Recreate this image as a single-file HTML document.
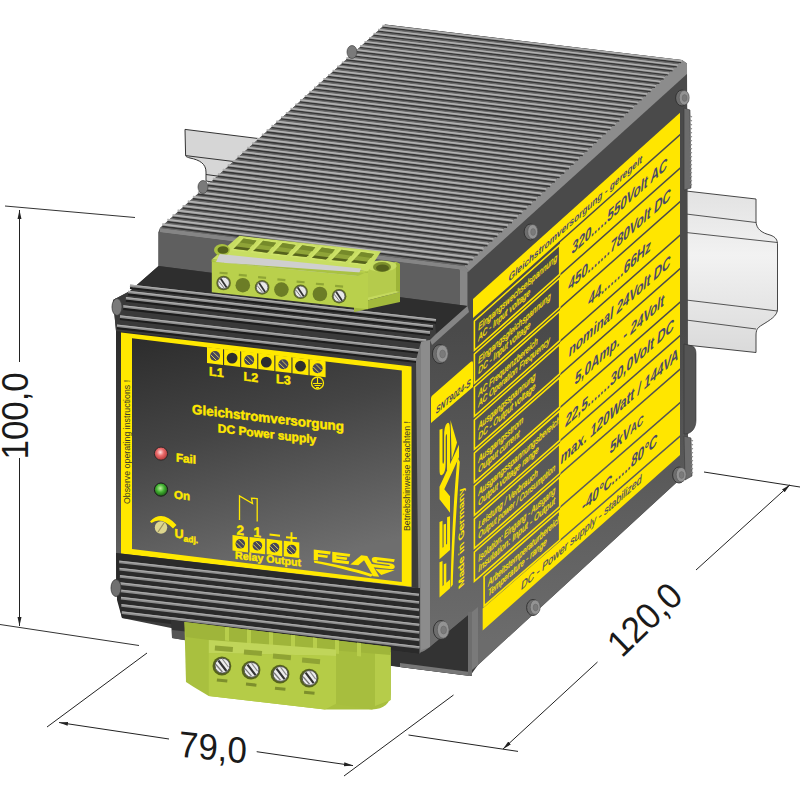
<!DOCTYPE html>
<html><head><meta charset="utf-8"><style>
html,body{margin:0;padding:0;background:#fff;}
svg{display:block;}
</style></head><body>
<svg width="800" height="800" viewBox="0 0 800 800">
<rect width="800" height="800" fill="#ffffff"/>
<defs>
<linearGradient id="panelg" x1="0" y1="0" x2="0.3" y2="1">
 <stop offset="0" stop-color="#2a2a2a"/><stop offset="0.45" stop-color="#444"/><stop offset="1" stop-color="#6e6e6e"/></linearGradient>
<linearGradient id="rfg" gradientUnits="userSpaceOnUse" x1="0" y1="330" x2="0" y2="640">
 <stop offset="0" stop-color="#4a4a4a"/><stop offset="1" stop-color="#6c6c6c"/></linearGradient>
<linearGradient id="railg" x1="0" y1="0" x2="0" y2="1">
 <stop offset="0" stop-color="#e2e2e2"/><stop offset="0.4" stop-color="#f2f2f2"/><stop offset="1" stop-color="#dadada"/></linearGradient>
<radialGradient id="ledr" cx="0.45" cy="0.4" r="0.6"><stop offset="0" stop-color="#ffe0e0"/><stop offset="0.45" stop-color="#ea6a6a"/><stop offset="1" stop-color="#b03838"/></radialGradient>
<radialGradient id="ledg" cx="0.45" cy="0.4" r="0.6"><stop offset="0" stop-color="#c0f0a0"/><stop offset="0.5" stop-color="#40b030"/><stop offset="1" stop-color="#1c5a14"/></radialGradient>
<marker id="arr" viewBox="0 0 10 10" refX="10" refY="5" markerWidth="9" markerHeight="9" orient="auto-start-reverse" markerUnits="userSpaceOnUse">
 <path d="M0,2.8 L10,5 L0,7.2 z" fill="#222"/></marker>
</defs>
<path d="M185,129.4 L262,139 L262,190 L206,181 L206,172 C206,164 200,160 190,158 C186,157 185.6,156 185.6,155.6 Z" fill="#d6d6d6" stroke="#333" stroke-width="1"/>
<line x1="185.6" y1="155.6" x2="262.0" y2="165.0" stroke="#333" stroke-width="1" />
<line x1="206.0" y1="174.5" x2="262.0" y2="182.0" stroke="#333" stroke-width="1" />
<path d="M686,191 L756,199 L756,221 C756,229 762,233 770,235 C776,237 777.5,240 777.5,245 L777.5,309 C777.5,316 770,320 762,325 C757,328 756,330 756,336 L756,352.5 L686,345 Z" fill="url(#railg)" stroke="#333" stroke-width="0.9"/>
<line x1="686.0" y1="214.0" x2="756.0" y2="222.5" stroke="#444" stroke-width="0.9" />
<line x1="686.0" y1="232.5" x2="777.5" y2="242.5" stroke="#444" stroke-width="0.9" />
<line x1="686.0" y1="300.0" x2="777.5" y2="311.0" stroke="#444" stroke-width="0.9" />
<line x1="686.0" y1="320.0" x2="756.0" y2="329.0" stroke="#444" stroke-width="0.9" />
<polygon points="385.0,24.5 682.0,60.0 687.0,63.5 688.0,472.0 478.0,665.0 470.0,676.0 400.0,667.0 171.0,628.0 122.0,618.0 116.0,590.0 116.0,331.0 113.0,300.0 130.0,291.0 158.5,266.0 158.5,232.0 160.0,228.0" fill="#3c3c3c" stroke="none" stroke-width="0" />
<polygon points="430.0,340.0 467.5,306.0 467.5,271.0 687.0,74.0 688.0,472.0 478.0,665.0 472.0,668.0 472.0,612.0 430.0,647.0" fill="url(#rfg)" stroke="none" stroke-width="0" />
<path d="M684,108 L690,110 L691,188 L684,190 Z" fill="#6c6c6c" stroke="#3a3a3a" stroke-width="0.6"/>
<line x1="690.0" y1="116.0" x2="692.0" y2="117.0" stroke="#888" stroke-width="1.2" />
<line x1="690.0" y1="120.0" x2="692.0" y2="121.0" stroke="#888" stroke-width="1.2" />
<line x1="690.0" y1="124.0" x2="692.0" y2="125.0" stroke="#888" stroke-width="1.2" />
<line x1="690.0" y1="128.0" x2="692.0" y2="129.0" stroke="#888" stroke-width="1.2" />
<line x1="690.0" y1="132.0" x2="692.0" y2="133.0" stroke="#888" stroke-width="1.2" />
<line x1="690.0" y1="136.0" x2="692.0" y2="137.0" stroke="#888" stroke-width="1.2" />
<line x1="690.0" y1="140.0" x2="692.0" y2="141.0" stroke="#888" stroke-width="1.2" />
<line x1="690.0" y1="144.0" x2="692.0" y2="145.0" stroke="#888" stroke-width="1.2" />
<line x1="690.0" y1="148.0" x2="692.0" y2="149.0" stroke="#888" stroke-width="1.2" />
<line x1="690.0" y1="152.0" x2="692.0" y2="153.0" stroke="#888" stroke-width="1.2" />
<line x1="690.0" y1="156.0" x2="692.0" y2="157.0" stroke="#888" stroke-width="1.2" />
<line x1="690.0" y1="160.0" x2="692.0" y2="161.0" stroke="#888" stroke-width="1.2" />
<line x1="690.0" y1="164.0" x2="692.0" y2="165.0" stroke="#888" stroke-width="1.2" />
<line x1="690.0" y1="168.0" x2="692.0" y2="169.0" stroke="#888" stroke-width="1.2" />
<line x1="690.0" y1="172.0" x2="692.0" y2="173.0" stroke="#888" stroke-width="1.2" />
<line x1="690.0" y1="176.0" x2="692.0" y2="177.0" stroke="#888" stroke-width="1.2" />
<line x1="690.0" y1="180.0" x2="692.0" y2="181.0" stroke="#888" stroke-width="1.2" />
<line x1="690.0" y1="184.0" x2="692.0" y2="185.0" stroke="#888" stroke-width="1.2" />
<path d="M684,344 L692,346 C695,347 696,350 696,354 L696,420 C696,428 692,433 686,434 L684,434 Z" fill="#555" stroke="#333" stroke-width="0.6"/>
<path d="M684,436 L691,438 L692,476 L685,480 Z" fill="#6c6c6c" stroke="#3a3a3a" stroke-width="0.6"/>
<line x1="691.0" y1="440.0" x2="693.0" y2="441.0" stroke="#888" stroke-width="1.2" />
<line x1="691.0" y1="444.0" x2="693.0" y2="445.0" stroke="#888" stroke-width="1.2" />
<line x1="691.0" y1="448.0" x2="693.0" y2="449.0" stroke="#888" stroke-width="1.2" />
<line x1="691.0" y1="452.0" x2="693.0" y2="453.0" stroke="#888" stroke-width="1.2" />
<line x1="691.0" y1="456.0" x2="693.0" y2="457.0" stroke="#888" stroke-width="1.2" />
<line x1="691.0" y1="460.0" x2="693.0" y2="461.0" stroke="#888" stroke-width="1.2" />
<line x1="691.0" y1="464.0" x2="693.0" y2="465.0" stroke="#888" stroke-width="1.2" />
<line x1="691.0" y1="468.0" x2="693.0" y2="469.0" stroke="#888" stroke-width="1.2" />
<line x1="691.0" y1="472.0" x2="693.0" y2="473.0" stroke="#888" stroke-width="1.2" />
<polygon points="464.0,266.0 682.0,60.0 687.0,63.5 687.0,74.0 469.0,271.0" fill="#8c8c8c" stroke="none" stroke-width="0" />
<polygon points="385.0,24.5 682.0,60.0 464.0,266.0 160.0,228.0" fill="#6a6a6a" stroke="none" stroke-width="0" />
<line x1="382.5" y1="27.1" x2="681.1" y2="62.7" stroke="#343434" stroke-width="1.1915844628046377" />
<line x1="382.5" y1="25.6" x2="682.1" y2="61.1" stroke="#a2a2a2" stroke-width="1.6205548694143073" />
<line x1="382.5" y1="25.4" x2="682.1" y2="60.9" stroke="#bababa" stroke-width="0.6672872991705971" />
<line x1="378.1" y1="31.2" x2="676.8" y2="66.8" stroke="#343434" stroke-width="1.1990279421643582" />
<line x1="378.1" y1="29.6" x2="677.8" y2="65.2" stroke="#a2a2a2" stroke-width="1.630678001343527" />
<line x1="378.1" y1="29.4" x2="677.8" y2="65.0" stroke="#bababa" stroke-width="0.6714556476120405" />
<line x1="373.6" y1="35.2" x2="672.5" y2="70.9" stroke="#343434" stroke-width="1.2064936781179587" />
<line x1="373.6" y1="33.6" x2="673.5" y2="69.3" stroke="#a2a2a2" stroke-width="1.6408314022404236" />
<line x1="373.6" y1="33.5" x2="673.5" y2="69.1" stroke="#bababa" stroke-width="0.6756364597460568" />
<line x1="369.1" y1="39.3" x2="668.1" y2="75.0" stroke="#343434" stroke-width="1.213981770638375" />
<line x1="369.1" y1="37.7" x2="669.1" y2="73.4" stroke="#a2a2a2" stroke-width="1.6510152080681901" />
<line x1="369.1" y1="37.5" x2="669.1" y2="73.2" stroke="#bababa" stroke-width="0.67982979155749" />
<line x1="364.6" y1="43.4" x2="663.7" y2="79.1" stroke="#343434" stroke-width="1.2214923202981909" />
<line x1="364.6" y1="41.8" x2="664.7" y2="77.5" stroke="#a2a2a2" stroke-width="1.6612295556055396" />
<line x1="364.6" y1="41.6" x2="664.7" y2="77.3" stroke="#bababa" stroke-width="0.6840356993669868" />
<line x1="360.1" y1="47.5" x2="659.4" y2="83.3" stroke="#343434" stroke-width="1.2290254282741384" />
<line x1="360.1" y1="45.9" x2="660.4" y2="81.6" stroke="#a2a2a2" stroke-width="1.671474582452828" />
<line x1="360.1" y1="45.7" x2="660.4" y2="81.4" stroke="#bababa" stroke-width="0.6882542398335174" />
<line x1="355.6" y1="51.6" x2="655.0" y2="87.4" stroke="#343434" stroke-width="1.236581196351643" />
<line x1="355.6" y1="49.9" x2="656.0" y2="85.8" stroke="#a2a2a2" stroke-width="1.6817504270382346" />
<line x1="355.6" y1="49.7" x2="656.0" y2="85.6" stroke="#bababa" stroke-width="0.6924854699569201" />
<line x1="351.0" y1="55.7" x2="650.6" y2="91.6" stroke="#343434" stroke-width="1.2441597269294082" />
<line x1="351.0" y1="54.1" x2="651.6" y2="89.9" stroke="#a2a2a2" stroke-width="1.6920572286239952" />
<line x1="351.0" y1="53.9" x2="651.6" y2="89.7" stroke="#bababa" stroke-width="0.6967294470804686" />
<line x1="346.4" y1="59.8" x2="646.1" y2="95.8" stroke="#343434" stroke-width="1.2517611230240402" />
<line x1="346.4" y1="58.2" x2="647.1" y2="94.1" stroke="#a2a2a2" stroke-width="1.7023951273126947" />
<line x1="346.4" y1="58.0" x2="647.1" y2="93.9" stroke="#bababa" stroke-width="0.7009862288934625" />
<line x1="341.9" y1="64.0" x2="641.7" y2="99.9" stroke="#343434" stroke-width="1.2593854882747157" />
<line x1="341.9" y1="62.3" x2="642.7" y2="98.3" stroke="#a2a2a2" stroke-width="1.7127642640536134" />
<line x1="341.9" y1="62.1" x2="642.7" y2="98.1" stroke="#bababa" stroke-width="0.7052558734338408" />
<line x1="337.3" y1="68.1" x2="637.3" y2="104.1" stroke="#343434" stroke-width="1.267032926947894" />
<line x1="337.3" y1="66.4" x2="638.3" y2="102.5" stroke="#a2a2a2" stroke-width="1.7231647806491357" />
<line x1="337.3" y1="66.2" x2="638.3" y2="102.3" stroke="#bababa" stroke-width="0.7095384390908205" />
<line x1="332.7" y1="72.3" x2="632.8" y2="108.4" stroke="#343434" stroke-width="1.2747035439420673" />
<line x1="332.7" y1="70.6" x2="633.8" y2="106.7" stroke="#a2a2a2" stroke-width="1.7335968197612115" />
<line x1="332.7" y1="70.4" x2="633.8" y2="106.5" stroke="#bababa" stroke-width="0.7138339846075576" />
<line x1="328.1" y1="76.5" x2="628.3" y2="112.6" stroke="#343434" stroke-width="1.2823974447925588" />
<line x1="328.1" y1="74.8" x2="629.3" y2="110.9" stroke="#a2a2a2" stroke-width="1.7440605249178798" />
<line x1="328.1" y1="74.6" x2="629.3" y2="110.7" stroke="#bababa" stroke-width="0.7181425690838329" />
<line x1="323.4" y1="80.7" x2="623.8" y2="116.8" stroke="#343434" stroke-width="1.2901147356763623" />
<line x1="323.4" y1="78.9" x2="624.8" y2="115.1" stroke="#a2a2a2" stroke-width="1.7545560405198526" />
<line x1="323.4" y1="78.7" x2="624.8" y2="114.9" stroke="#bababa" stroke-width="0.7224642519787629" />
<line x1="318.8" y1="84.9" x2="619.3" y2="121.1" stroke="#343434" stroke-width="1.2978555234170264" />
<line x1="318.8" y1="83.1" x2="620.3" y2="119.4" stroke="#a2a2a2" stroke-width="1.7650835118471557" />
<line x1="318.8" y1="82.9" x2="620.3" y2="119.2" stroke="#bababa" stroke-width="0.7267990931135347" />
<line x1="314.1" y1="89.1" x2="614.8" y2="125.4" stroke="#343434" stroke-width="1.3056199154895831" />
<line x1="314.1" y1="87.3" x2="615.8" y2="123.6" stroke="#a2a2a2" stroke-width="1.775643085065833" />
<line x1="314.1" y1="87.1" x2="615.8" y2="123.4" stroke="#bababa" stroke-width="0.7311471526741665" />
<line x1="309.5" y1="93.3" x2="610.3" y2="129.6" stroke="#343434" stroke-width="1.3134080200255227" />
<line x1="309.5" y1="91.6" x2="611.3" y2="127.9" stroke="#a2a2a2" stroke-width="1.7862349072347108" />
<line x1="309.5" y1="91.4" x2="611.3" y2="127.7" stroke="#bababa" stroke-width="0.7355084912142926" />
<line x1="304.8" y1="97.5" x2="605.8" y2="133.9" stroke="#343434" stroke-width="1.3212199458178122" />
<line x1="304.8" y1="95.8" x2="606.8" y2="132.2" stroke="#a2a2a2" stroke-width="1.7968591263122247" />
<line x1="304.8" y1="95.6" x2="606.8" y2="132.0" stroke="#bababa" stroke-width="0.7398831696579748" />
<line x1="300.1" y1="101.8" x2="601.2" y2="138.2" stroke="#343434" stroke-width="1.3290558023259629" />
<line x1="300.1" y1="100.0" x2="602.2" y2="136.5" stroke="#a2a2a2" stroke-width="1.8075158911633096" />
<line x1="300.1" y1="99.8" x2="602.2" y2="136.3" stroke="#bababa" stroke-width="0.7442712493025392" />
<line x1="295.4" y1="106.1" x2="596.6" y2="142.6" stroke="#343434" stroke-width="1.3369156996811413" />
<line x1="295.4" y1="104.3" x2="597.6" y2="140.8" stroke="#a2a2a2" stroke-width="1.818205351566352" />
<line x1="295.4" y1="104.1" x2="597.6" y2="140.6" stroke="#bababa" stroke-width="0.7486727918214391" />
<line x1="290.6" y1="110.3" x2="592.1" y2="146.9" stroke="#343434" stroke-width="1.3447997486913295" />
<line x1="290.6" y1="108.6" x2="593.1" y2="145.1" stroke="#a2a2a2" stroke-width="1.8289276582202079" />
<line x1="290.6" y1="108.4" x2="593.1" y2="144.9" stroke="#bababa" stroke-width="0.7530878592671444" />
<line x1="285.9" y1="114.6" x2="587.5" y2="151.2" stroke="#343434" stroke-width="1.3527080608465316" />
<line x1="285.9" y1="112.9" x2="588.5" y2="149.5" stroke="#a2a2a2" stroke-width="1.839682962751283" />
<line x1="285.9" y1="112.6" x2="588.5" y2="149.2" stroke="#bababa" stroke-width="0.7575165140740577" />
<line x1="281.1" y1="118.9" x2="582.8" y2="155.6" stroke="#343434" stroke-width="1.3606407483240315" />
<line x1="281.1" y1="117.2" x2="583.8" y2="153.8" stroke="#a2a2a2" stroke-width="1.850471417720683" />
<line x1="281.1" y1="116.9" x2="583.8" y2="153.6" stroke="#bababa" stroke-width="0.7619588190614576" />
<line x1="276.3" y1="123.3" x2="578.2" y2="160.0" stroke="#343434" stroke-width="1.3685979239936938" />
<line x1="276.3" y1="121.5" x2="579.2" y2="158.2" stroke="#a2a2a2" stroke-width="1.8612931766314236" />
<line x1="276.3" y1="121.2" x2="579.2" y2="158.0" stroke="#bababa" stroke-width="0.7664148374364684" />
<line x1="271.6" y1="127.6" x2="573.6" y2="164.4" stroke="#343434" stroke-width="1.3765797014233185" />
<line x1="271.6" y1="125.8" x2="574.6" y2="162.5" stroke="#a2a2a2" stroke-width="1.8721483939357133" />
<line x1="271.6" y1="125.6" x2="574.6" y2="162.3" stroke="#bababa" stroke-width="0.7708846327970583" />
<line x1="266.7" y1="132.0" x2="568.9" y2="168.8" stroke="#343434" stroke-width="1.384586194884045" />
<line x1="266.7" y1="130.1" x2="569.9" y2="166.9" stroke="#a2a2a2" stroke-width="1.883037225042301" />
<line x1="266.7" y1="129.9" x2="569.9" y2="166.7" stroke="#bababa" stroke-width="0.7753682691350651" />
<line x1="261.9" y1="136.3" x2="564.3" y2="173.2" stroke="#343434" stroke-width="1.3926175193558032" />
<line x1="261.9" y1="134.5" x2="565.3" y2="171.3" stroke="#a2a2a2" stroke-width="1.8939598263238924" />
<line x1="261.9" y1="134.3" x2="565.3" y2="171.1" stroke="#bababa" stroke-width="0.7798658108392498" />
<line x1="257.1" y1="140.7" x2="559.6" y2="177.6" stroke="#343434" stroke-width="1.4006737905328202" />
<line x1="257.1" y1="138.8" x2="560.6" y2="175.8" stroke="#a2a2a2" stroke-width="1.9049163551246353" />
<line x1="257.1" y1="138.6" x2="560.6" y2="175.5" stroke="#bababa" stroke-width="0.7843773226983792" />
<line x1="252.2" y1="145.1" x2="554.9" y2="182.0" stroke="#343434" stroke-width="1.4087551248291725" />
<line x1="252.2" y1="143.2" x2="555.9" y2="180.2" stroke="#a2a2a2" stroke-width="1.9159069697676745" />
<line x1="252.2" y1="143.0" x2="555.9" y2="180.0" stroke="#bababa" stroke-width="0.7889028699043366" />
<line x1="247.4" y1="149.5" x2="550.2" y2="186.5" stroke="#343434" stroke-width="1.416861639384396" />
<line x1="247.4" y1="147.6" x2="551.2" y2="184.6" stroke="#a2a2a2" stroke-width="1.9269318295627786" />
<line x1="247.4" y1="147.4" x2="551.2" y2="184.4" stroke="#bababa" stroke-width="0.7934425180552618" />
<line x1="242.5" y1="153.9" x2="545.4" y2="191.0" stroke="#343434" stroke-width="1.4249934520691458" />
<line x1="242.5" y1="152.0" x2="546.4" y2="189.1" stroke="#a2a2a2" stroke-width="1.9379910948140384" />
<line x1="242.5" y1="151.8" x2="546.4" y2="188.9" stroke="#bababa" stroke-width="0.7979963331587216" />
<line x1="237.6" y1="158.3" x2="540.7" y2="195.5" stroke="#343434" stroke-width="1.4331506814909079" />
<line x1="237.6" y1="156.4" x2="541.7" y2="193.6" stroke="#a2a2a2" stroke-width="1.9490849268276347" />
<line x1="237.6" y1="156.2" x2="541.7" y2="193.3" stroke="#bababa" stroke-width="0.8025643816349084" />
<line x1="232.7" y1="162.8" x2="535.9" y2="200.0" stroke="#343434" stroke-width="1.4413334469997652" />
<line x1="232.7" y1="160.9" x2="536.9" y2="198.1" stroke="#a2a2a2" stroke-width="1.9602134879196806" />
<line x1="232.7" y1="160.6" x2="536.9" y2="197.8" stroke="#bababa" stroke-width="0.8071467303198685" />
<line x1="227.8" y1="167.2" x2="531.2" y2="204.5" stroke="#343434" stroke-width="1.4495418686942207" />
<line x1="227.8" y1="165.3" x2="532.2" y2="202.6" stroke="#a2a2a2" stroke-width="1.9713769414241402" />
<line x1="227.8" y1="165.1" x2="532.2" y2="202.3" stroke="#bababa" stroke-width="0.8117434464687636" />
<line x1="222.8" y1="171.7" x2="526.4" y2="209.0" stroke="#343434" stroke-width="1.4577760674270719" />
<line x1="222.8" y1="169.8" x2="527.4" y2="207.1" stroke="#a2a2a2" stroke-width="1.9825754517008176" />
<line x1="222.8" y1="169.5" x2="527.4" y2="206.8" stroke="#bababa" stroke-width="0.8163545977591602" />
<line x1="217.9" y1="176.2" x2="521.6" y2="213.5" stroke="#343434" stroke-width="1.4660361648113407" />
<line x1="217.9" y1="174.2" x2="522.6" y2="211.6" stroke="#a2a2a2" stroke-width="1.9938091841434233" />
<line x1="217.9" y1="174.0" x2="522.6" y2="211.4" stroke="#bababa" stroke-width="0.8209802522943508" />
<line x1="212.9" y1="180.7" x2="516.8" y2="218.1" stroke="#343434" stroke-width="1.4743222832262637" />
<line x1="212.9" y1="178.7" x2="517.8" y2="216.1" stroke="#a2a2a2" stroke-width="2.0050783051877183" />
<line x1="212.9" y1="178.5" x2="517.8" y2="215.9" stroke="#bababa" stroke-width="0.8256204786067076" />
<line x1="207.9" y1="185.2" x2="511.9" y2="222.7" stroke="#343434" stroke-width="1.4826345458233325" />
<line x1="207.9" y1="183.2" x2="512.9" y2="220.7" stroke="#a2a2a2" stroke-width="2.0163829823197323" />
<line x1="207.9" y1="183.0" x2="512.9" y2="220.5" stroke="#bababa" stroke-width="0.8302753456610662" />
<line x1="202.9" y1="189.7" x2="507.1" y2="227.2" stroke="#343434" stroke-width="1.4909730765323972" />
<line x1="202.9" y1="187.8" x2="508.1" y2="225.3" stroke="#a2a2a2" stroke-width="2.02772338408406" />
<line x1="202.9" y1="187.5" x2="508.1" y2="225.0" stroke="#bababa" stroke-width="0.8349449228581424" />
<line x1="197.9" y1="194.3" x2="502.2" y2="231.8" stroke="#343434" stroke-width="1.499338000067825" />
<line x1="197.9" y1="192.3" x2="503.2" y2="229.9" stroke="#a2a2a2" stroke-width="2.039099680092242" />
<line x1="197.9" y1="192.0" x2="503.2" y2="229.6" stroke="#bababa" stroke-width="0.839629280037982" />
<line x1="192.9" y1="198.8" x2="497.3" y2="236.5" stroke="#343434" stroke-width="1.5077294419347167" />
<line x1="192.9" y1="196.8" x2="498.3" y2="234.5" stroke="#a2a2a2" stroke-width="2.0505120410312148" />
<line x1="192.9" y1="196.6" x2="498.3" y2="234.2" stroke="#bababa" stroke-width="0.8443284874834414" />
<line x1="187.8" y1="203.4" x2="492.4" y2="241.1" stroke="#343434" stroke-width="1.5161475284351857" />
<line x1="187.8" y1="201.4" x2="493.4" y2="239.1" stroke="#a2a2a2" stroke-width="2.0619606386718528" />
<line x1="187.8" y1="201.1" x2="493.4" y2="238.8" stroke="#bababa" stroke-width="0.849042615923704" />
<line x1="182.7" y1="208.0" x2="487.5" y2="245.7" stroke="#343434" stroke-width="1.5245923866746929" />
<line x1="182.7" y1="206.0" x2="488.5" y2="243.7" stroke="#a2a2a2" stroke-width="2.0734456458775825" />
<line x1="182.7" y1="205.7" x2="488.5" y2="243.5" stroke="#bababa" stroke-width="0.853771736537828" />
<line x1="177.7" y1="212.6" x2="482.6" y2="250.4" stroke="#343434" stroke-width="1.5330641445684445" />
<line x1="177.7" y1="210.6" x2="483.6" y2="248.4" stroke="#a2a2a2" stroke-width="2.0849672366130845" />
<line x1="177.7" y1="210.3" x2="483.6" y2="248.1" stroke="#bababa" stroke-width="0.8585159209583288" />
<line x1="172.6" y1="217.2" x2="477.7" y2="255.1" stroke="#343434" stroke-width="1.5415629308478516" />
<line x1="172.6" y1="215.2" x2="478.7" y2="253.0" stroke="#a2a2a2" stroke-width="2.096525585953078" />
<line x1="172.6" y1="214.9" x2="478.7" y2="252.8" stroke="#bababa" stroke-width="0.8632752412747968" />
<line x1="167.4" y1="221.8" x2="472.7" y2="259.7" stroke="#343434" stroke-width="1.5500888750670485" />
<line x1="167.4" y1="219.8" x2="473.7" y2="257.7" stroke="#a2a2a2" stroke-width="2.108120870091186" />
<line x1="167.4" y1="219.5" x2="473.7" y2="257.4" stroke="#bababa" stroke-width="0.8680497700375471" />
<line x1="162.3" y1="226.5" x2="467.7" y2="264.4" stroke="#343434" stroke-width="1.5586421076094783" />
<line x1="162.3" y1="224.4" x2="468.7" y2="262.4" stroke="#a2a2a2" stroke-width="2.1197532663488907" />
<line x1="162.3" y1="224.2" x2="468.7" y2="262.1" stroke="#bababa" stroke-width="0.8728395802613078" />
<ellipse cx="352" cy="52" rx="5" ry="6.5" fill="#7a7a7a" stroke="#444" stroke-width="0.7"/>
<ellipse cx="203" cy="187" rx="5" ry="6.5" fill="#7a7a7a" stroke="#444" stroke-width="0.7"/>
<polygon points="160.0,228.0 464.0,266.0 460.0,270.0 159.5,232.5" fill="#858585" stroke="none" stroke-width="0" />
<polygon points="158.5,232.0 460.0,269.5 460.0,305.0 158.5,266.0" fill="#5f5f5f" stroke="none" stroke-width="0" />
<polygon points="460.0,269.5 467.5,271.0 467.5,306.0 460.0,305.0" fill="#878787" stroke="none" stroke-width="0" />
<polygon points="459.0,270.0 464.0,265.5 469.5,271.0 467.5,272.0" fill="#868686" stroke="none" stroke-width="0" />
<polygon points="158.5,266.0 460.0,305.0 467.5,306.0 436.0,334.0 435.0,321.0 137.5,287.0 130.0,291.0" fill="#2e2e2e" stroke="none" stroke-width="0" />
<polygon points="467.5,306.0 469.0,312.0 432.0,345.0 430.0,340.0 436.0,334.0" fill="#858585" stroke="none" stroke-width="0" />
<polygon points="137.5,287.0 435.0,321.0 421.0,342.0 416.0,365.0 116.0,331.0 113.0,300.0 130.0,291.0" fill="#3a3a3a" stroke="none" stroke-width="0" />
<line x1="130.0" y1="287.9" x2="436.0" y2="322.5" stroke="#1c1c1c" stroke-width="2.4" />
<line x1="130.0" y1="285.7" x2="436.0" y2="320.3" stroke="#8e8e8e" stroke-width="2.6" />
<line x1="130.0" y1="285.0" x2="436.0" y2="319.6" stroke="#b0b0b0" stroke-width="1.0" />
<line x1="128.0" y1="294.2" x2="433.0" y2="328.7" stroke="#1c1c1c" stroke-width="2.4" />
<line x1="128.0" y1="292.0" x2="433.0" y2="326.5" stroke="#8e8e8e" stroke-width="2.6" />
<line x1="128.0" y1="291.3" x2="433.0" y2="325.8" stroke="#b0b0b0" stroke-width="1.0" />
<line x1="125.9" y1="300.5" x2="430.0" y2="334.8" stroke="#1c1c1c" stroke-width="2.4" />
<line x1="125.9" y1="298.3" x2="430.0" y2="332.6" stroke="#8e8e8e" stroke-width="2.6" />
<line x1="125.9" y1="297.6" x2="430.0" y2="331.9" stroke="#b0b0b0" stroke-width="1.0" />
<line x1="123.3" y1="308.7" x2="426.2" y2="342.9" stroke="#1c1c1c" stroke-width="2.4" />
<line x1="123.3" y1="306.5" x2="426.2" y2="340.7" stroke="#8e8e8e" stroke-width="2.6" />
<line x1="123.3" y1="305.8" x2="426.2" y2="340.0" stroke="#b0b0b0" stroke-width="1.0" />
<line x1="120.0" y1="318.8" x2="421.3" y2="352.9" stroke="#1c1c1c" stroke-width="2.4" />
<line x1="120.0" y1="316.6" x2="421.3" y2="350.7" stroke="#8e8e8e" stroke-width="2.6" />
<line x1="120.0" y1="315.9" x2="421.3" y2="350.0" stroke="#b0b0b0" stroke-width="1.0" />
<line x1="117.0" y1="328.0" x2="417.0" y2="361.9" stroke="#1c1c1c" stroke-width="2.4" />
<line x1="117.0" y1="325.8" x2="417.0" y2="359.7" stroke="#8e8e8e" stroke-width="2.6" />
<line x1="117.0" y1="325.1" x2="417.0" y2="359.0" stroke="#b0b0b0" stroke-width="1.0" />
<ellipse cx="117" cy="307" rx="5" ry="8.5" fill="#7a7a7a" stroke="#3a3a3a" stroke-width="0.8"/>
<polygon points="116.0,331.0 416.0,365.0 416.0,588.0 116.0,553.0" fill="url(#panelg)" stroke="none" stroke-width="0" />
<polygon points="411.5,364.5 416.0,365.0 416.0,588.0 411.5,587.0" fill="#3a3a3a" stroke="none" stroke-width="0" />
<polygon points="416.0,360.0 421.0,342.0 430.0,340.0 430.0,650.0 421.0,652.0 419.0,654.0" fill="#7e7e7e" stroke="none" stroke-width="0" />
<polygon points="421.0,342.0 430.0,340.0 430.0,647.0 421.0,650.0" fill="#8c8c8c" stroke="none" stroke-width="0" />
<path d="M121,332.5 L411.5,366.5 L411.5,586.7 L121,553.5 Z M132,338.3 L401.8,370.6 L401.8,582 L132,549 Z" fill="#ffe800" fill-rule="evenodd"/>
<polygon points="116.0,553.0 416.0,588.0 420.0,588.0 419.5,654.0 122.0,618.0 117.0,600.0" fill="#2a2a2a" stroke="none" stroke-width="0" />
<line x1="119.2" y1="561.9" x2="419.0" y2="595.0" stroke="#8c8c8c" stroke-width="2.6" />
<line x1="119.2" y1="561.2" x2="419.0" y2="594.3" stroke="#acacac" stroke-width="1.0" />
<line x1="119.5" y1="569.1" x2="419.1" y2="602.5" stroke="#8c8c8c" stroke-width="2.6" />
<line x1="119.5" y1="568.4" x2="419.1" y2="601.8" stroke="#acacac" stroke-width="1.0" />
<line x1="119.9" y1="576.4" x2="419.1" y2="610.0" stroke="#8c8c8c" stroke-width="2.6" />
<line x1="119.9" y1="575.7" x2="419.1" y2="609.3" stroke="#acacac" stroke-width="1.0" />
<line x1="120.3" y1="583.6" x2="419.2" y2="617.5" stroke="#8c8c8c" stroke-width="2.6" />
<line x1="120.3" y1="582.9" x2="419.2" y2="616.8" stroke="#acacac" stroke-width="1.0" />
<line x1="120.7" y1="590.9" x2="419.3" y2="625.0" stroke="#8c8c8c" stroke-width="2.6" />
<line x1="120.7" y1="590.2" x2="419.3" y2="624.3" stroke="#acacac" stroke-width="1.0" />
<line x1="121.0" y1="598.1" x2="419.3" y2="632.5" stroke="#8c8c8c" stroke-width="2.6" />
<line x1="121.0" y1="597.4" x2="419.3" y2="631.8" stroke="#acacac" stroke-width="1.0" />
<line x1="121.4" y1="605.4" x2="419.4" y2="640.0" stroke="#8c8c8c" stroke-width="2.6" />
<line x1="121.4" y1="604.7" x2="419.4" y2="639.3" stroke="#acacac" stroke-width="1.0" />
<line x1="121.8" y1="612.6" x2="419.5" y2="647.5" stroke="#8c8c8c" stroke-width="2.6" />
<line x1="121.8" y1="611.9" x2="419.5" y2="646.8" stroke="#acacac" stroke-width="1.0" />
<ellipse cx="116" cy="588" rx="5" ry="8.5" fill="#707070" stroke="#3a3a3a" stroke-width="0.8"/>
<polygon points="171.0,620.0 419.5,654.0 430.0,647.0 472.0,612.0 472.0,676.0 400.0,667.0 190.0,641.0 172.0,638.0" fill="#333333" stroke="none" stroke-width="0" />
<polygon points="172.0,630.0 190.0,632.0 190.0,641.0 172.0,638.0" fill="#555" stroke="none" stroke-width="0" />
<polygon points="400.0,667.0 470.0,676.0 470.0,672.0 400.0,663.0" fill="#777" stroke="none" stroke-width="0" />
<polygon points="468.0,612.0 472.0,612.0 472.0,676.0 468.0,675.0" fill="#6e6e6e" stroke="none" stroke-width="0" />
<polygon points="472.0,612.0 478.0,607.0 478.0,665.0 472.0,670.0" fill="#7a7a7a" stroke="none" stroke-width="0" />
<ellipse cx="682" cy="98" rx="6.4" ry="8.0" fill="#6e6e6e" stroke="#2e2e2e" stroke-width="0.9"/>
<ellipse cx="684.2" cy="97.7" rx="5.0" ry="7.2" fill="#939393" stroke="#555" stroke-width="0.6"/>
<ellipse cx="684.6" cy="98.0" rx="2.4" ry="3.4" fill="#7a7a7a" stroke="#666" stroke-width="0.5"/>
<ellipse cx="440" cy="354" rx="7.6" ry="9.5" fill="#6e6e6e" stroke="#2e2e2e" stroke-width="0.9"/>
<ellipse cx="442.2" cy="353.7" rx="5.9" ry="8.6" fill="#939393" stroke="#555" stroke-width="0.6"/>
<ellipse cx="442.6" cy="354.0" rx="2.9" ry="4.0" fill="#7a7a7a" stroke="#666" stroke-width="0.5"/>
<ellipse cx="441" cy="630" rx="7.6" ry="9.5" fill="#6e6e6e" stroke="#2e2e2e" stroke-width="0.9"/>
<ellipse cx="443.2" cy="629.7" rx="5.9" ry="8.6" fill="#939393" stroke="#555" stroke-width="0.6"/>
<ellipse cx="443.6" cy="630.0" rx="2.9" ry="4.0" fill="#7a7a7a" stroke="#666" stroke-width="0.5"/>
<ellipse cx="530.5" cy="232" rx="6.4" ry="8.0" fill="#6e6e6e" stroke="#2e2e2e" stroke-width="0.9"/>
<ellipse cx="532.7" cy="231.7" rx="5.0" ry="7.2" fill="#939393" stroke="#555" stroke-width="0.6"/>
<ellipse cx="533.1" cy="232.0" rx="2.4" ry="3.4" fill="#7a7a7a" stroke="#666" stroke-width="0.5"/>
<ellipse cx="533" cy="607.5" rx="6.4" ry="8.0" fill="#6e6e6e" stroke="#2e2e2e" stroke-width="0.9"/>
<ellipse cx="535.2" cy="607.2" rx="5.0" ry="7.2" fill="#939393" stroke="#555" stroke-width="0.6"/>
<ellipse cx="535.6" cy="607.5" rx="2.4" ry="3.4" fill="#7a7a7a" stroke="#666" stroke-width="0.5"/>
<ellipse cx="679" cy="475" rx="6.4" ry="8.0" fill="#6e6e6e" stroke="#2e2e2e" stroke-width="0.9"/>
<ellipse cx="681.2" cy="474.7" rx="5.0" ry="7.2" fill="#939393" stroke="#555" stroke-width="0.6"/>
<ellipse cx="681.6" cy="475.0" rx="2.4" ry="3.4" fill="#7a7a7a" stroke="#666" stroke-width="0.5"/>
<polygon points="473.0,299.0 680.0,112.8 680.0,133.8 473.0,318.1" fill="#ffe600" stroke="none" stroke-width="0" />
<polygon points="482.7,608.6 680.0,437.2 680.0,455.0 482.7,630.6" fill="#ffe600" stroke="none" stroke-width="0" />
<polygon points="560.0,242.6 680.0,135.8 680.0,167.2 560.0,273.8" fill="#ffe600" stroke="none" stroke-width="0" />
<polygon points="474.4,321.0 559.7,244.8 559.7,274.3 474.4,350.3" fill="none" stroke="#ffe600" stroke-width="1.6" />
<text transform="matrix(0.645,-0.581,-0.120,1,619.0,212.0)" text-anchor="middle" style="font-family:'Liberation Sans',sans-serif;font-size:18px;font-weight:bold" fill="#48486a" >320.....550Volt AC</text>
<text transform="matrix(0.600,-0.540,-0.120,1,478.0,331.1)" text-anchor="start" style="font-family:'Liberation Sans',sans-serif;font-size:10.8px;font-weight:normal" fill="#ffe600"  stroke="#ffe600" stroke-width="0.3">Eingangswechselspannung</text>
<text transform="matrix(0.600,-0.540,-0.120,1,478.0,341.4)" text-anchor="start" style="font-family:'Liberation Sans',sans-serif;font-size:10.8px;font-weight:normal" fill="#ffe600"  stroke="#ffe600" stroke-width="0.3">AC - Input voltage</text>
<polygon points="560.0,275.8 680.0,169.2 680.0,200.8 560.0,307.0" fill="#ffe600" stroke="none" stroke-width="0" />
<polygon points="474.4,354.0 559.7,278.0 559.7,307.5 474.4,383.3" fill="none" stroke="#ffe600" stroke-width="1.6" />
<text transform="matrix(0.645,-0.581,-0.120,1,619.0,245.4)" text-anchor="middle" style="font-family:'Liberation Sans',sans-serif;font-size:18px;font-weight:bold" fill="#48486a" >450.......780Volt DC</text>
<text transform="matrix(0.600,-0.540,-0.120,1,478.0,364.2)" text-anchor="start" style="font-family:'Liberation Sans',sans-serif;font-size:10.8px;font-weight:normal" fill="#ffe600"  stroke="#ffe600" stroke-width="0.3">Eingangsgleichspannung</text>
<text transform="matrix(0.600,-0.540,-0.120,1,478.0,374.5)" text-anchor="start" style="font-family:'Liberation Sans',sans-serif;font-size:10.8px;font-weight:normal" fill="#ffe600"  stroke="#ffe600" stroke-width="0.3">DC - Input voltage</text>
<polygon points="560.0,309.0 680.0,202.8 680.0,234.2 560.0,340.2" fill="#ffe600" stroke="none" stroke-width="0" />
<polygon points="474.4,387.0 559.7,311.2 559.7,340.7 474.4,416.3" fill="none" stroke="#ffe600" stroke-width="1.6" />
<text transform="matrix(0.645,-0.581,-0.120,1,619.0,278.7)" text-anchor="middle" style="font-family:'Liberation Sans',sans-serif;font-size:18px;font-weight:bold" fill="#48486a" >44.......66Hz</text>
<text transform="matrix(0.600,-0.540,-0.120,1,478.0,397.2)" text-anchor="start" style="font-family:'Liberation Sans',sans-serif;font-size:10.8px;font-weight:normal" fill="#ffe600"  stroke="#ffe600" stroke-width="0.3">AC Frequenzbereich</text>
<text transform="matrix(0.600,-0.540,-0.120,1,478.0,407.5)" text-anchor="start" style="font-family:'Liberation Sans',sans-serif;font-size:10.8px;font-weight:normal" fill="#ffe600"  stroke="#ffe600" stroke-width="0.3">AC Operation Frequency</text>
<polygon points="560.0,342.2 680.0,236.2 680.0,267.8 560.0,373.4" fill="#ffe600" stroke="none" stroke-width="0" />
<polygon points="474.4,420.0 559.7,344.4 559.7,373.9 474.4,449.3" fill="none" stroke="#ffe600" stroke-width="1.6" />
<text transform="matrix(0.645,-0.581,-0.120,1,619.0,312.1)" text-anchor="middle" style="font-family:'Liberation Sans',sans-serif;font-size:18px;font-weight:bold" fill="#48486a" >nominal 24Volt DC</text>
<text transform="matrix(0.600,-0.540,-0.120,1,478.0,430.2)" text-anchor="start" style="font-family:'Liberation Sans',sans-serif;font-size:10.8px;font-weight:normal" fill="#ffe600"  stroke="#ffe600" stroke-width="0.3">Ausgangsspannung</text>
<text transform="matrix(0.600,-0.540,-0.120,1,478.0,440.5)" text-anchor="start" style="font-family:'Liberation Sans',sans-serif;font-size:10.8px;font-weight:normal" fill="#ffe600"  stroke="#ffe600" stroke-width="0.3">DC - Output voltage</text>
<polygon points="560.0,375.4 680.0,269.8 680.0,301.2 560.0,406.6" fill="#ffe600" stroke="none" stroke-width="0" />
<polygon points="474.4,453.0 559.7,377.6 559.7,407.1 474.4,482.3" fill="none" stroke="#ffe600" stroke-width="1.6" />
<text transform="matrix(0.645,-0.581,-0.120,1,619.0,345.4)" text-anchor="middle" style="font-family:'Liberation Sans',sans-serif;font-size:18px;font-weight:bold" fill="#48486a" >5,0Amp.  -  24Volt</text>
<text transform="matrix(0.600,-0.540,-0.120,1,478.0,463.2)" text-anchor="start" style="font-family:'Liberation Sans',sans-serif;font-size:10.8px;font-weight:normal" fill="#ffe600"  stroke="#ffe600" stroke-width="0.3">Ausgangsstrom</text>
<text transform="matrix(0.600,-0.540,-0.120,1,478.0,473.5)" text-anchor="start" style="font-family:'Liberation Sans',sans-serif;font-size:10.8px;font-weight:normal" fill="#ffe600"  stroke="#ffe600" stroke-width="0.3">Output current</text>
<polygon points="560.0,408.6 680.0,303.2 680.0,334.8 560.0,439.8" fill="#ffe600" stroke="none" stroke-width="0" />
<polygon points="474.4,486.0 559.7,410.8 559.7,440.3 474.4,515.3" fill="none" stroke="#ffe600" stroke-width="1.6" />
<text transform="matrix(0.645,-0.581,-0.120,1,619.0,378.8)" text-anchor="middle" style="font-family:'Liberation Sans',sans-serif;font-size:18px;font-weight:bold" fill="#48486a" >22,5.......30,0Volt DC</text>
<text transform="matrix(0.600,-0.540,-0.120,1,478.0,496.2)" text-anchor="start" style="font-family:'Liberation Sans',sans-serif;font-size:10.8px;font-weight:normal" fill="#ffe600"  stroke="#ffe600" stroke-width="0.3">Ausgangsspannungsbereich</text>
<text transform="matrix(0.600,-0.540,-0.120,1,478.0,506.5)" text-anchor="start" style="font-family:'Liberation Sans',sans-serif;font-size:10.8px;font-weight:normal" fill="#ffe600"  stroke="#ffe600" stroke-width="0.3">Output voltage range</text>
<polygon points="560.0,441.8 680.0,336.8 680.0,368.2 560.0,473.0" fill="#ffe600" stroke="none" stroke-width="0" />
<polygon points="474.4,519.0 559.7,444.0 559.7,473.5 474.4,548.3" fill="none" stroke="#ffe600" stroke-width="1.6" />
<text transform="matrix(0.645,-0.581,-0.120,1,619.0,412.1)" text-anchor="middle" style="font-family:'Liberation Sans',sans-serif;font-size:18px;font-weight:bold" fill="#48486a" >max. 120Watt / 144VA</text>
<text transform="matrix(0.600,-0.540,-0.120,1,478.0,529.2)" text-anchor="start" style="font-family:'Liberation Sans',sans-serif;font-size:10.8px;font-weight:normal" fill="#ffe600"  stroke="#ffe600" stroke-width="0.3">Leistung / Verbrauch</text>
<text transform="matrix(0.600,-0.540,-0.120,1,478.0,539.5)" text-anchor="start" style="font-family:'Liberation Sans',sans-serif;font-size:10.8px;font-weight:normal" fill="#ffe600" textLength="128" lengthAdjust="spacingAndGlyphs" stroke="#ffe600" stroke-width="0.3">Output power / Consumption</text>
<polygon points="560.0,475.0 680.0,370.2 680.0,401.8 560.0,506.2" fill="#ffe600" stroke="none" stroke-width="0" />
<polygon points="474.4,552.0 559.7,477.2 559.7,506.7 474.4,581.3" fill="none" stroke="#ffe600" stroke-width="1.6" />
<text transform="matrix(0.645,-0.581,-0.120,1,626.0,439.5)" text-anchor="middle" style="font-family:'Liberation Sans',sans-serif;font-size:18px;font-weight:bold" fill="#48486a" >5kV<tspan font-size="14" dy="-1">AC</tspan></text>
<text transform="matrix(0.600,-0.540,-0.120,1,478.0,562.2)" text-anchor="start" style="font-family:'Liberation Sans',sans-serif;font-size:10.8px;font-weight:normal" fill="#ffe600" textLength="128" lengthAdjust="spacingAndGlyphs" stroke="#ffe600" stroke-width="0.3">Isolation: Eingang - Ausgang</text>
<text transform="matrix(0.600,-0.540,-0.120,1,478.0,572.5)" text-anchor="start" style="font-family:'Liberation Sans',sans-serif;font-size:10.8px;font-weight:normal" fill="#ffe600" textLength="128" lengthAdjust="spacingAndGlyphs" stroke="#ffe600" stroke-width="0.3">Insulation: Input - Output</text>
<polygon points="560.0,508.2 680.0,403.8 680.0,435.2 560.0,539.5" fill="#ffe600" stroke="none" stroke-width="0" />
<polygon points="484.1,576.5 559.7,510.4 559.7,540.0 484.1,605.9" fill="none" stroke="#ffe600" stroke-width="1.6" />
<text transform="matrix(0.645,-0.581,-0.120,1,619.0,478.8)" text-anchor="middle" style="font-family:'Liberation Sans',sans-serif;font-size:18px;font-weight:bold" fill="#48486a" >-40°C......80°C</text>
<text transform="matrix(0.600,-0.540,-0.120,1,487.7,586.8)" text-anchor="start" style="font-family:'Liberation Sans',sans-serif;font-size:10.8px;font-weight:normal" fill="#ffe600"  stroke="#ffe600" stroke-width="0.3">Arbeitstemperaturbereich</text>
<text transform="matrix(0.600,-0.540,-0.120,1,487.7,597.1)" text-anchor="start" style="font-family:'Liberation Sans',sans-serif;font-size:10.8px;font-weight:normal" fill="#ffe600"  stroke="#ffe600" stroke-width="0.3">Temperature - range</text>
<text transform="matrix(0.720,-0.648,-0.120,1,575.0,222.2)" text-anchor="middle" style="font-family:'Liberation Sans',sans-serif;font-size:11.5px;font-weight:bold" fill="#48486a" >Gleichstromversorgung - geregelt</text>
<text transform="matrix(0.720,-0.648,-0.120,1,581.0,536.4)" text-anchor="middle" style="font-family:'Liberation Sans',sans-serif;font-size:12.5px;font-weight:normal" fill="#48486a" stroke="#48486a" stroke-width="0.25">DC - Power supply - stabilized</text>
<polygon points="354.0,304.0 400.0,292.0 400.0,302.0 354.0,312.0" fill="#a3ba3c" stroke="none" stroke-width="0" />
<polygon points="356.0,298.0 372.0,293.0 400.0,290.0 400.0,292.0 354.0,304.0" fill="#c4d95e" stroke="none" stroke-width="0" />
<polygon points="366.0,266.0 396.0,262.0 400.0,264.0 400.0,292.0 396.0,291.0 366.0,298.0" fill="#b5cb4c" stroke="none" stroke-width="0" />
<polygon points="396.0,262.0 400.0,264.0 400.0,292.0 396.0,291.0" fill="#9db438" stroke="none" stroke-width="0" />
<ellipse cx="381.5" cy="266" rx="15" ry="5.5" fill="#c6db62"/>
<ellipse cx="382" cy="267" rx="9" ry="5" fill="#7d902c"/>
<ellipse cx="382.5" cy="268" rx="6.5" ry="3.6" fill="#55621c"/>
<polygon points="239.4,235.8 381.0,251.5 368.0,271.2 211.8,259.4" fill="#c8de62" stroke="none" stroke-width="0" />
<polygon points="241.5,236.8 258.0,239.2 247.0,252.0 230.5,250.3" fill="#cfe36a" stroke="none" stroke-width="0" />
<polygon points="243.5,238.6 256.5,240.6 247.5,250.4 233.5,248.7" fill="#8fa438" stroke="none" stroke-width="0" />
<polygon points="243.5,238.6 256.5,240.6 253.5,244.5 240.0,242.6" fill="#768a2a" stroke="none" stroke-width="0" />
<polygon points="236.5,246.5 250.3,248.2 247.5,250.4 233.5,248.7" fill="#55621c" stroke="none" stroke-width="0" />
<polygon points="261.1,239.1 277.6,241.4 266.6,254.2 250.1,252.6" fill="#cfe36a" stroke="none" stroke-width="0" />
<polygon points="263.1,240.8 276.1,242.8 267.1,252.7 253.1,250.9" fill="#8fa438" stroke="none" stroke-width="0" />
<polygon points="263.1,240.8 276.1,242.8 273.1,246.8 259.6,244.8" fill="#768a2a" stroke="none" stroke-width="0" />
<polygon points="256.1,248.8 269.9,250.4 267.1,252.7 253.1,250.9" fill="#55621c" stroke="none" stroke-width="0" />
<polygon points="280.7,241.3 297.2,243.7 286.2,256.5 269.7,254.8" fill="#cfe36a" stroke="none" stroke-width="0" />
<polygon points="282.7,243.1 295.7,245.1 286.7,254.9 272.7,253.2" fill="#8fa438" stroke="none" stroke-width="0" />
<polygon points="282.7,243.1 295.7,245.1 292.7,249.0 279.2,247.1" fill="#768a2a" stroke="none" stroke-width="0" />
<polygon points="275.7,251.0 289.5,252.7 286.7,254.9 272.7,253.2" fill="#55621c" stroke="none" stroke-width="0" />
<polygon points="300.3,243.6 316.8,245.9 305.8,258.8 289.3,257.1" fill="#cfe36a" stroke="none" stroke-width="0" />
<polygon points="302.3,245.3 315.3,247.3 306.3,257.1 292.3,255.4" fill="#8fa438" stroke="none" stroke-width="0" />
<polygon points="302.3,245.3 315.3,247.3 312.3,251.2 298.8,249.3" fill="#768a2a" stroke="none" stroke-width="0" />
<polygon points="295.3,253.2 309.1,254.9 306.3,257.1 292.3,255.4" fill="#55621c" stroke="none" stroke-width="0" />
<polygon points="319.9,245.8 336.4,248.2 325.4,261.0 308.9,259.3" fill="#cfe36a" stroke="none" stroke-width="0" />
<polygon points="321.9,247.6 334.9,249.6 325.9,259.4 311.9,257.7" fill="#8fa438" stroke="none" stroke-width="0" />
<polygon points="321.9,247.6 334.9,249.6 331.9,253.5 318.4,251.6" fill="#768a2a" stroke="none" stroke-width="0" />
<polygon points="314.9,255.5 328.7,257.2 325.9,259.4 311.9,257.7" fill="#55621c" stroke="none" stroke-width="0" />
<polygon points="339.5,248.1 356.0,250.4 345.0,263.2 328.5,261.6" fill="#cfe36a" stroke="none" stroke-width="0" />
<polygon points="341.5,249.8 354.5,251.8 345.5,261.6 331.5,259.9" fill="#8fa438" stroke="none" stroke-width="0" />
<polygon points="341.5,249.8 354.5,251.8 351.5,255.8 338.0,253.8" fill="#768a2a" stroke="none" stroke-width="0" />
<polygon points="334.5,257.8 348.3,259.4 345.5,261.6 331.5,259.9" fill="#55621c" stroke="none" stroke-width="0" />
<polygon points="359.1,250.3 375.6,252.7 364.6,265.5 348.1,263.8" fill="#cfe36a" stroke="none" stroke-width="0" />
<polygon points="361.1,252.1 374.1,254.1 365.1,263.9 351.1,262.2" fill="#8fa438" stroke="none" stroke-width="0" />
<polygon points="361.1,252.1 374.1,254.1 371.1,258.0 357.6,256.1" fill="#768a2a" stroke="none" stroke-width="0" />
<polygon points="354.1,260.0 367.9,261.7 365.1,263.9 351.1,262.2" fill="#55621c" stroke="none" stroke-width="0" />
<ellipse cx="222" cy="250" rx="8" ry="6" fill="#a8c040"/>
<ellipse cx="223" cy="250" rx="5.5" ry="3.8" fill="#55621c"/>
<polygon points="211.8,259.4 368.0,271.2 368.0,309.2 211.8,292.2" fill="#b9d04c" stroke="none" stroke-width="0" />
<polygon points="219.7,254.0 361.0,268.5 358.0,276.0 216.0,262.0" fill="#cfcfcf" stroke="none" stroke-width="0" />
<polygon points="211.8,259.4 216.0,262.0 358.0,276.0 368.0,271.2 368.0,273.0 211.8,262.0" fill="#a9c243" stroke="none" stroke-width="0" />
<rect x="219.6" y="272.0" width="8" height="2.2" fill="#8fa535" transform="rotate(5 223.6 273.0)"/>
<circle cx="223.6" cy="283.0" r="7.3" fill="#5d6b22"/>
<circle cx="223.6" cy="283.0" r="5.8" fill="#e8e8e8" stroke="#555" stroke-width="0.8"/>
<line x1="220.6" y1="278.5" x2="226.6" y2="287.5" stroke="#333" stroke-width="1.8"/>
<line x1="218.6" y1="281.0" x2="224.1" y2="288.0" stroke="#777" stroke-width="1"/>
<rect x="238.8" y="274.2" width="8" height="2.2" fill="#8fa535" transform="rotate(5 242.8 275.2)"/>
<circle cx="242.8" cy="285.2" r="7.3" fill="#6c7d26"/>
<rect x="258.1" y="276.4" width="8" height="2.2" fill="#8fa535" transform="rotate(5 262.1 277.4)"/>
<circle cx="262.1" cy="287.4" r="7.3" fill="#5d6b22"/>
<circle cx="262.1" cy="287.4" r="5.8" fill="#e8e8e8" stroke="#555" stroke-width="0.8"/>
<line x1="259.1" y1="282.9" x2="265.1" y2="291.9" stroke="#333" stroke-width="1.8"/>
<line x1="257.1" y1="285.4" x2="262.6" y2="292.4" stroke="#777" stroke-width="1"/>
<rect x="277.4" y="278.6" width="8" height="2.2" fill="#8fa535" transform="rotate(5 281.4 279.6)"/>
<circle cx="281.4" cy="289.6" r="7.3" fill="#6c7d26"/>
<rect x="296.6" y="280.8" width="8" height="2.2" fill="#8fa535" transform="rotate(5 300.6 281.8)"/>
<circle cx="300.6" cy="291.8" r="7.3" fill="#5d6b22"/>
<circle cx="300.6" cy="291.8" r="5.8" fill="#e8e8e8" stroke="#555" stroke-width="0.8"/>
<line x1="297.6" y1="287.3" x2="303.6" y2="296.3" stroke="#333" stroke-width="1.8"/>
<line x1="295.6" y1="289.8" x2="301.1" y2="296.8" stroke="#777" stroke-width="1"/>
<rect x="315.9" y="283.0" width="8" height="2.2" fill="#8fa535" transform="rotate(5 319.9 284.0)"/>
<circle cx="319.9" cy="294.0" r="7.3" fill="#6c7d26"/>
<rect x="335.1" y="285.2" width="8" height="2.2" fill="#8fa535" transform="rotate(5 339.1 286.2)"/>
<circle cx="339.1" cy="296.2" r="7.3" fill="#5d6b22"/>
<circle cx="339.1" cy="296.2" r="5.8" fill="#e8e8e8" stroke="#555" stroke-width="0.8"/>
<line x1="336.1" y1="291.7" x2="342.1" y2="300.7" stroke="#333" stroke-width="1.8"/>
<line x1="334.1" y1="294.2" x2="339.6" y2="301.2" stroke="#777" stroke-width="1"/>
<path d="M184.4,622 L390.6,647 L390.6,694 C390.6,703 384,709 372,709.5 L325,709.4 L208.75,696 L193.75,687 L186,682 Z" fill="#a9c03f"/>
<polygon points="336.0,649.4 390.6,652.0 390.6,700.0 372.0,709.5 336.0,704.0" fill="#a7be3e" stroke="none" stroke-width="0" />
<polygon points="375.0,651.0 390.6,652.5 390.6,700.0 375.0,706.0" fill="#b6cc4a" stroke="none" stroke-width="0" />
<polygon points="184.4,622.0 390.6,647.0 390.6,655.0 208.8,640.0 186.0,637.0" fill="#9fb53a" stroke="none" stroke-width="0" />
<polygon points="225.0,627.0 229.0,627.5 229.0,641.0 225.0,640.5" fill="#b8ce4c" stroke="none" stroke-width="0" />
<polygon points="247.0,629.6 251.0,630.1 251.0,643.6 247.0,643.1" fill="#b8ce4c" stroke="none" stroke-width="0" />
<polygon points="269.0,632.2 273.0,632.7 273.0,646.2 269.0,645.7" fill="#b8ce4c" stroke="none" stroke-width="0" />
<polygon points="291.0,634.8 295.0,635.3 295.0,648.8 291.0,648.3" fill="#b8ce4c" stroke="none" stroke-width="0" />
<polygon points="313.0,637.4 317.0,637.9 317.0,651.4 313.0,650.9" fill="#b8ce4c" stroke="none" stroke-width="0" />
<polygon points="335.0,640.0 339.0,640.5 339.0,654.0 335.0,653.5" fill="#b8ce4c" stroke="none" stroke-width="0" />
<polygon points="357.0,642.6 361.0,643.1 361.0,656.6 357.0,656.1" fill="#b8ce4c" stroke="none" stroke-width="0" />
<polygon points="208.8,640.0 336.0,649.4 336.0,656.0 208.8,653.0" fill="#c0d55a" stroke="none" stroke-width="0" />
<polygon points="208.8,653.0 336.0,656.0 336.0,703.8 325.0,709.4 208.8,696.0" fill="#b5cc47" stroke="none" stroke-width="0" />
<rect x="214.9" y="646.0" width="18" height="5" fill="#8fa334" transform="rotate(5 221.9 648.0)"/>
<circle cx="221.9" cy="666.0" r="9.4" fill="#55621c"/>
<circle cx="222.4" cy="665.7" r="7.4" fill="#ececec" stroke="#4a4a4a" stroke-width="0.9"/>
<line x1="218.4" y1="660.5" x2="226.4" y2="671.0" stroke="#333" stroke-width="2.2"/>
<line x1="215.9" y1="664.5" x2="222.4" y2="672.0" stroke="#777" stroke-width="1.3"/>
<line x1="222.4" y1="659.0" x2="228.4" y2="667.0" stroke="#888" stroke-width="1.1"/>
<rect x="216.9" y="679.0" width="10.5" height="3" fill="#7d8f2c" transform="rotate(6 221.9 680.0)"/>
<rect x="244.0" y="650.1" width="18" height="5" fill="#8fa334" transform="rotate(5 251.0 652.1)"/>
<circle cx="251.0" cy="670.1" r="9.4" fill="#55621c"/>
<circle cx="251.5" cy="669.8" r="7.4" fill="#ececec" stroke="#4a4a4a" stroke-width="0.9"/>
<line x1="247.5" y1="664.6" x2="255.5" y2="675.1" stroke="#333" stroke-width="2.2"/>
<line x1="245.0" y1="668.6" x2="251.5" y2="676.1" stroke="#777" stroke-width="1.3"/>
<line x1="251.5" y1="663.1" x2="257.5" y2="671.1" stroke="#888" stroke-width="1.1"/>
<rect x="246.0" y="683.1" width="10.5" height="3" fill="#7d8f2c" transform="rotate(6 251.0 684.1)"/>
<rect x="273.0" y="654.2" width="18" height="5" fill="#8fa334" transform="rotate(5 280.0 656.2)"/>
<circle cx="280.0" cy="674.2" r="9.4" fill="#55621c"/>
<circle cx="280.5" cy="673.9" r="7.4" fill="#ececec" stroke="#4a4a4a" stroke-width="0.9"/>
<line x1="276.5" y1="668.7" x2="284.5" y2="679.2" stroke="#333" stroke-width="2.2"/>
<line x1="274.0" y1="672.7" x2="280.5" y2="680.2" stroke="#777" stroke-width="1.3"/>
<line x1="280.5" y1="667.2" x2="286.5" y2="675.2" stroke="#888" stroke-width="1.1"/>
<rect x="275.0" y="687.2" width="10.5" height="3" fill="#7d8f2c" transform="rotate(6 280.0 688.2)"/>
<rect x="302.1" y="658.2" width="18" height="5" fill="#8fa334" transform="rotate(5 309.1 660.2)"/>
<circle cx="309.1" cy="678.2" r="9.4" fill="#55621c"/>
<circle cx="309.6" cy="677.9" r="7.4" fill="#ececec" stroke="#4a4a4a" stroke-width="0.9"/>
<line x1="305.6" y1="672.7" x2="313.6" y2="683.2" stroke="#333" stroke-width="2.2"/>
<line x1="303.1" y1="676.7" x2="309.6" y2="684.2" stroke="#777" stroke-width="1.3"/>
<line x1="309.6" y1="671.2" x2="315.6" y2="679.2" stroke="#888" stroke-width="1.1"/>
<rect x="304.1" y="691.2" width="10.5" height="3" fill="#7d8f2c" transform="rotate(6 309.1 692.2)"/>
<polygon points="207.0,347.0 223.0,348.9 223.0,364.9 207.0,363.0" fill="#ffe800" stroke="none" stroke-width="0" />
<circle cx="215.0" cy="356.0" r="5" fill="#45455a"/>
<line x1="210.7" y1="354.7" x2="216.3" y2="360.3" stroke="#e8d850" stroke-width="0.9"/>
<line x1="213.3" y1="352.1" x2="218.9" y2="357.7" stroke="#e8d850" stroke-width="0.9"/>
<polygon points="224.1,349.1 240.1,351.0 240.1,367.0 224.1,365.1" fill="#ffe800" stroke="none" stroke-width="0" />
<circle cx="232.1" cy="358.1" r="5.4" fill="#2e2e2e"/>
<polygon points="241.2,351.1 257.2,353.0 257.2,369.0 241.2,367.1" fill="#ffe800" stroke="none" stroke-width="0" />
<circle cx="249.2" cy="360.1" r="5" fill="#45455a"/>
<line x1="244.9" y1="358.8" x2="250.5" y2="364.4" stroke="#e8d850" stroke-width="0.9"/>
<line x1="247.5" y1="356.2" x2="253.1" y2="361.8" stroke="#e8d850" stroke-width="0.9"/>
<polygon points="258.3,353.1 274.3,355.1 274.3,371.1 258.3,369.1" fill="#ffe800" stroke="none" stroke-width="0" />
<circle cx="266.3" cy="362.1" r="5.4" fill="#2e2e2e"/>
<polygon points="275.4,355.2 291.4,357.1 291.4,373.1 275.4,371.2" fill="#ffe800" stroke="none" stroke-width="0" />
<circle cx="283.4" cy="364.2" r="5" fill="#45455a"/>
<line x1="279.1" y1="362.9" x2="284.7" y2="368.5" stroke="#e8d850" stroke-width="0.9"/>
<line x1="281.7" y1="360.3" x2="287.3" y2="365.9" stroke="#e8d850" stroke-width="0.9"/>
<polygon points="292.5,357.2 308.5,359.2 308.5,375.2 292.5,373.2" fill="#ffe800" stroke="none" stroke-width="0" />
<circle cx="300.5" cy="366.2" r="5.4" fill="#2e2e2e"/>
<polygon points="309.6,359.3 325.6,361.2 325.6,377.2 309.6,375.3" fill="#ffe800" stroke="none" stroke-width="0" />
<circle cx="317.6" cy="368.3" r="5" fill="#45455a"/>
<line x1="313.3" y1="367.0" x2="318.9" y2="372.6" stroke="#e8d850" stroke-width="0.9"/>
<line x1="315.9" y1="364.4" x2="321.5" y2="370.0" stroke="#e8d850" stroke-width="0.9"/>
<text transform="matrix(1.0,0.115,0,1,209.0,375.5)" text-anchor="start" style="font-family:'Liberation Sans',sans-serif;font-size:12.5px;font-weight:bold" fill="#ffe800" stroke="#ffe800" stroke-width="0.45">L1</text>
<text transform="matrix(1.0,0.115,0,1,243.5,380.5)" text-anchor="start" style="font-family:'Liberation Sans',sans-serif;font-size:12.5px;font-weight:bold" fill="#ffe800" stroke="#ffe800" stroke-width="0.45">L2</text>
<text transform="matrix(1.0,0.115,0,1,276.0,383.0)" text-anchor="start" style="font-family:'Liberation Sans',sans-serif;font-size:12.5px;font-weight:bold" fill="#ffe800" stroke="#ffe800" stroke-width="0.45">L3</text>
<circle cx="317.5" cy="383" r="6" fill="none" stroke="#ffe800" stroke-width="1.3"/>
<path d="M317.5,377.5 V383 M313,383.5 H322 M314.5,385.5 H320.5 M316,387.5 H319" stroke="#ffe800" stroke-width="1.1"/>
<text transform="matrix(1.0,0.115,0,1,268.0,422.5)" text-anchor="middle" style="font-family:'Liberation Sans',sans-serif;font-size:13.4px;font-weight:bold" fill="#ffe800" stroke="#ffe800" stroke-width="0.45">Gleichstromversorgung</text>
<text transform="matrix(1.0,0.115,0,1,267.0,438.0)" text-anchor="middle" style="font-family:'Liberation Sans',sans-serif;font-size:12px;font-weight:bold" fill="#ffe800" stroke="#ffe800" stroke-width="0.45">DC Power supply</text>
<circle cx="161" cy="453.6" r="6.6" fill="url(#ledr)" stroke="#2a2a2a" stroke-width="1"/>
<circle cx="161" cy="489.6" r="6.6" fill="url(#ledg)" stroke="#1a1a1a" stroke-width="1"/>
<text transform="matrix(1.0,0.115,0,1,176.0,461.5)" text-anchor="start" style="font-family:'Liberation Sans',sans-serif;font-size:11.6px;font-weight:bold" fill="#ffe800" stroke="#ffe800" stroke-width="0.45">Fail</text>
<text transform="matrix(1.0,0.115,0,1,174.0,498.5)" text-anchor="start" style="font-family:'Liberation Sans',sans-serif;font-size:11.6px;font-weight:bold" fill="#ffe800" stroke="#ffe800" stroke-width="0.45">On</text>
<path d="M150,521.5 Q162,509 176.5,525 L173,528.5 Q161,516 151.5,523 Z" fill="#ffe800"/>
<circle cx="161" cy="527.5" r="6.2" fill="#ddd68e"/>
<line x1="158" y1="532" x2="164" y2="523" stroke="#9a9060" stroke-width="1.2"/>
<text transform="matrix(1.0,0.115,0,1,174.5,537.5)" text-anchor="start" style="font-family:'Liberation Sans',sans-serif;font-size:12.5px;font-weight:bold" fill="#ffe800" stroke="#ffe800" stroke-width="0.45">U</text>
<text transform="matrix(1.0,0.115,0,1,183.5,541.5)" text-anchor="start" style="font-family:'Liberation Sans',sans-serif;font-size:8.5px;font-weight:bold" fill="#ffe800" stroke="#ffe800" stroke-width="0.45">adj.</text>
<path d="M239.5,520 V496 L252.5,503.5 L251.5,498.2 L257.2,498.6 V521.5" fill="none" stroke="#ffe800" stroke-width="1.3" stroke-linejoin="miter"/>
<text transform="matrix(1.0,0.115,0,1,236.5,534.5)" text-anchor="start" style="font-family:'Liberation Sans',sans-serif;font-size:13.5px;font-weight:bold" fill="#ffe800" stroke="#ffe800" stroke-width="0.45">2</text>
<text transform="matrix(1.0,0.115,0,1,253.5,536.5)" text-anchor="start" style="font-family:'Liberation Sans',sans-serif;font-size:13.5px;font-weight:bold" fill="#ffe800" stroke="#ffe800" stroke-width="0.45">1</text>
<line x1="269.5" y1="534.5" x2="280" y2="535.7" stroke="#ffe800" stroke-width="1.9"/>
<path d="M286,537.3 L297,538.3 M291.5,532.3 V542.8" stroke="#ffe800" stroke-width="1.9"/>
<polygon points="232.5,535.0 248.0,536.9 248.0,552.4 232.5,550.5" fill="#ffe800" stroke="none" stroke-width="0" />
<circle cx="240.3" cy="543.8" r="4.8" fill="#45455a"/>
<line x1="236.0" y1="542.5" x2="241.6" y2="548.1" stroke="#e8d850" stroke-width="0.9"/>
<line x1="238.6" y1="539.9" x2="244.2" y2="545.5" stroke="#e8d850" stroke-width="0.9"/>
<polygon points="249.6,536.9 265.1,538.8 265.1,554.3 249.6,552.4" fill="#ffe800" stroke="none" stroke-width="0" />
<circle cx="257.4" cy="545.7" r="4.8" fill="#45455a"/>
<line x1="253.1" y1="544.4" x2="258.7" y2="550.0" stroke="#e8d850" stroke-width="0.9"/>
<line x1="255.7" y1="541.8" x2="261.3" y2="547.4" stroke="#e8d850" stroke-width="0.9"/>
<polygon points="266.7,538.8 282.2,540.7 282.2,556.2 266.7,554.3" fill="#ffe800" stroke="none" stroke-width="0" />
<circle cx="274.5" cy="547.6" r="4.8" fill="#45455a"/>
<line x1="270.2" y1="546.3" x2="275.8" y2="551.9" stroke="#e8d850" stroke-width="0.9"/>
<line x1="272.8" y1="543.7" x2="278.4" y2="549.3" stroke="#e8d850" stroke-width="0.9"/>
<polygon points="283.8,540.7 299.3,542.6 299.3,558.1 283.8,556.2" fill="#ffe800" stroke="none" stroke-width="0" />
<circle cx="291.6" cy="549.5" r="4.8" fill="#45455a"/>
<line x1="287.3" y1="548.2" x2="292.9" y2="553.8" stroke="#e8d850" stroke-width="0.9"/>
<line x1="289.9" y1="545.6" x2="295.5" y2="551.2" stroke="#e8d850" stroke-width="0.9"/>
<text transform="matrix(1.0,0.115,0,1,268.0,562.5)" text-anchor="middle" style="font-family:'Liberation Sans',sans-serif;font-size:10.6px;font-weight:bold" fill="#ffe800" stroke="#ffe800" stroke-width="0.45">Relay Output</text>
<g fill="#ffe800" transform="matrix(1,0.12,0,1,313.75,549.5)"><path d="M0,0 L17,0 L16.3,3 L4.2,3 L4.2,4.3 L14.2,4.3 L13.6,6.8 L4.2,6.8 L4.2,10.5 L0,10.5 Z"/>
<path d="M18.5,0 L36.5,0 L35.8,3 L22.7,3 L22.7,4.1 L33.5,4.1 L32.9,6.5 L22.7,6.5 L22.7,7.6 L35.5,7.6 L34.8,10.5 L18.5,10.5 Z"/>
<path d="M36.5,10.5 L47.5,0 L53.5,0 L65.5,19.5 L59.5,19.5 L50.3,4.8 L44.5,10.5 Z"/>
<path d="M62,0 L81,0 L80.2,3 L64.5,3 Q63,3 63,3.9 Q63,4.6 64.5,4.6 L76,4.6 Q81,4.6 81,7.6 Q81,10.5 76,10.5 L57.5,10.5 L58.3,7.5 L74.5,7.5 Q76,7.5 76,6.8 Q76,6.2 74.5,6.2 L62.5,6.2 Q58,6.2 58,3.2 Q58,0 62,0 Z"/>
<path d="M0,11 C20,12 42,14 60,18 L57,20.3 C38,17.3 18,14.3 0.5,13.3 Z"/>
<path d="M61.5,12.2 L81,11 L67.5,17.5 Z"/></g>
<g fill="#ffe800" transform="matrix(0,-2.07,1.0,-0.88,439.5,597.5)"><path d="M0,0 L17,0 L16.3,3 L4.2,3 L4.2,4.3 L14.2,4.3 L13.6,6.8 L4.2,6.8 L4.2,10.5 L0,10.5 Z"/>
<path d="M18.5,0 L36.5,0 L35.8,3 L22.7,3 L22.7,4.1 L33.5,4.1 L32.9,6.5 L22.7,6.5 L22.7,7.6 L35.5,7.6 L34.8,10.5 L18.5,10.5 Z"/>
<path d="M36.5,10.5 L47.5,0 L53.5,0 L65.5,19.5 L59.5,19.5 L50.3,4.8 L44.5,10.5 Z"/>
<path d="M62,0 L81,0 L80.2,3 L64.5,3 Q63,3 63,3.9 Q63,4.6 64.5,4.6 L76,4.6 Q81,4.6 81,7.6 Q81,10.5 76,10.5 L57.5,10.5 L58.3,7.5 L74.5,7.5 Q76,7.5 76,6.8 Q76,6.2 74.5,6.2 L62.5,6.2 Q58,6.2 58,3.2 Q58,0 62,0 Z"/>
<path d="M0,11 C20,12 42,14 60,18 L57,20.3 C38,17.3 18,14.3 0.5,13.3 Z"/>
<path d="M61.5,12.2 L81,11 L67.5,17.5 Z"/></g>
<text transform="matrix(0,-1,1,-0.9,463.5,585)" style="font-family:'Liberation Sans',sans-serif;font-size:8px;font-weight:bold" fill="#ffe800" textLength="99" lengthAdjust="spacingAndGlyphs">Made in Germany</text>
<path d="M434,394 L470.5,362 Q473,360 473,363 L473,387 L431,423 L431,398 Q431,396 434,394 Z" fill="#ffe800"/>
<text transform="matrix(0.72,-0.6,-0.15,1,435.5,414.5)" style="font-family:'Liberation Sans',sans-serif;font-size:11.5px;font-weight:bold" fill="#45455a" textLength="48" lengthAdjust="spacingAndGlyphs">SNT9024-S</text>
<text transform="translate(129.8,442) rotate(-90)" text-anchor="middle" style="font-family:'Liberation Sans',sans-serif;font-size:8.8px" fill="#3a3a2a">Observe operating instructions !</text>
<text transform="translate(409.5,476) rotate(-90)" text-anchor="middle" style="font-family:'Liberation Sans',sans-serif;font-size:8.8px" fill="#3a3a2a">Betriebshinweise beachten !</text>
<line x1="5.0" y1="206.0" x2="135.0" y2="217.5" stroke="#333" stroke-width="1" />
<line x1="0.0" y1="624.5" x2="139.0" y2="645.5" stroke="#333" stroke-width="1" />
<line x1="19.5" y1="362" x2="19.5" y2="210" stroke="#222" stroke-width="1" marker-end="url(#arr)"/>
<line x1="19.5" y1="458" x2="19.5" y2="626" stroke="#222" stroke-width="1" marker-end="url(#arr)"/>
<line x1="147.0" y1="653.0" x2="47.0" y2="727.0" stroke="#222" stroke-width="1" />
<line x1="453.5" y1="695.0" x2="344.0" y2="776.0" stroke="#222" stroke-width="1" />
<line x1="169" y1="739" x2="59" y2="722.5" stroke="#222" stroke-width="1" marker-end="url(#arr)"/>
<line x1="256.7" y1="751.7" x2="353" y2="765.6" stroke="#222" stroke-width="1" marker-end="url(#arr)"/>
<line x1="408.5" y1="735.0" x2="518.0" y2="751.4" stroke="#222" stroke-width="1" />
<line x1="704.0" y1="472.0" x2="800.0" y2="487.0" stroke="#222" stroke-width="1" />
<line x1="597.5" y1="662" x2="503" y2="749" stroke="#222" stroke-width="1" marker-end="url(#arr)"/>
<line x1="696" y1="570" x2="790" y2="484.8" stroke="#222" stroke-width="1" marker-end="url(#arr)"/>
<text x="0" y="0" transform="translate(28.3,459.5) rotate(-90) scale(0.955,1)" style="font-family:'Liberation Sans',sans-serif;font-size:36.5px" fill="#1a1a1a">100,0</text>
<text x="0" y="0" transform="matrix(0.955,0.1,-0.04,1,178.5,756.5)" style="font-family:'Liberation Sans',sans-serif;font-size:36.5px" fill="#1a1a1a">79,0</text>
<text x="0" y="0" transform="translate(621.8,658.5) rotate(-43.7) scale(0.955,1)" style="font-family:'Liberation Sans',sans-serif;font-size:36.5px" fill="#1a1a1a">120,0</text>
</svg></body></html>
